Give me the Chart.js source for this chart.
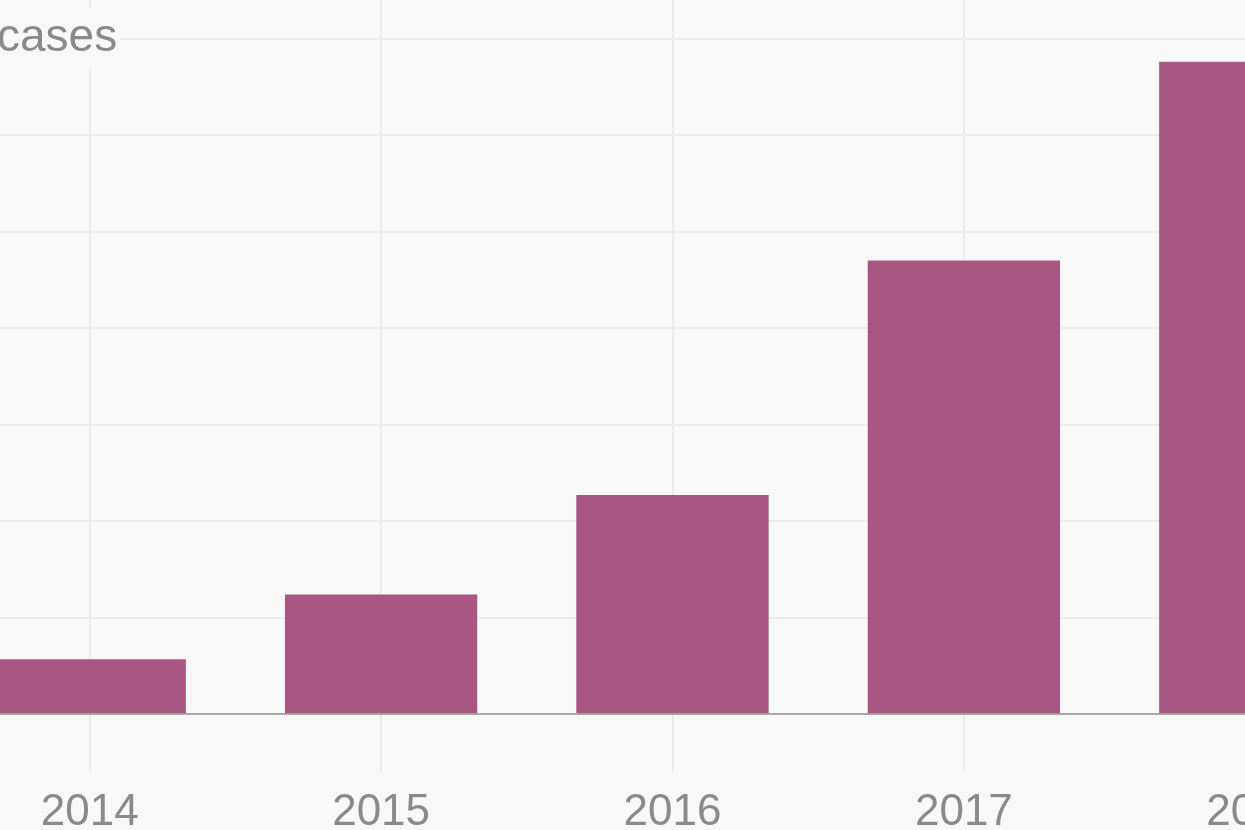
<!DOCTYPE html>
<html>
<head>
<meta charset="utf-8">
<script src="https://cdn.jsdelivr.net/npm/chart.js@4/dist/chart.umd.min.js"></script>
<style>
  html, body { margin: 0; padding: 0; background: #f8f8f8; }
  #frame { position: relative; width: 1245px; height: 830px; overflow: hidden; background: #f8f8f8; }
  #casesChart { position: absolute; left: -56px; top: 0; }
</style>
</head>
<body>
<div id="frame">
  <canvas id="casesChart" width="1457" height="854"></canvas>
</div>
<script>
// Chart data (the picture is cropped, so only part of the axis text is visible)
const years = ["2014", "2015", "2016", "2017", "2018"];
const cases = [57, 124, 227, 470, 676];
const yTickValues = [0, 100, 200, 300, 400, 500, 600, 700];
const yTickLabels = ["", "", "", "", "", "", "", "cases"];

const colors = {
  bar: "#a85782",
  grid: "#ebebeb",
  baseline: "#a8a8a8",
  text: "#8a8a8a",
  background: "#f8f8f8",
};

Chart.defaults.font.family = "'Liberation Sans', Arial, sans-serif";
Chart.defaults.color = colors.text;

document.addEventListener("DOMContentLoaded", function () {
  const ctx = document.getElementById("casesChart");

  new Chart(ctx, {
    type: "bar",
    data: {
      labels: years,
      datasets: [
        {
          data: cases,
          backgroundColor: colors.bar,
          borderWidth: 0,
          barPercentage: 0.66,
          categoryPercentage: 1.0,
        },
      ],
    },
    options: {
      responsive: false,
      animation: false,
      devicePixelRatio: 1,
      layout: { padding: 0 },
      plugins: {
        legend: { display: false },
        tooltip: { enabled: false },
      },
      scales: {
        x: {
          offset: true,
          grid: {
            offset: false,
            color: colors.grid,
            lineWidth: 2,
            drawTicks: true,
            tickLength: 57,
          },
          border: { display: false },
          ticks: {
            padding: 15,
            maxRotation: 0,
            font: { size: 44 },
            color: colors.text,
          },
        },
        y: {
          min: 0,
          max: 740,
          afterBuildTicks: function (scale) {
            scale.ticks = yTickValues.map((v) => ({ value: v }));
          },
          afterFit: function (scale) {
            // labels sit inside the plot, so the axis takes no room
            scale.width = 0;
            scale.paddingTop = 0;
            scale.paddingBottom = 0;
          },
          grid: {
            drawTicks: false,
            color: (c) => (c.tick && c.tick.value === 0 ? colors.baseline : colors.grid),
            lineWidth: (c) => 2,
          },
          border: { display: false },
          ticks: {
            mirror: true,
            padding: 53,
            z: 1,
            font: { size: 46 },
            color: colors.text,
            showLabelBackdrop: true,
            backdropColor: colors.background,
            backdropPadding: 3,
            callback: function (value) {
              const i = yTickValues.indexOf(value);
              return i >= 0 ? yTickLabels[i] : "";
            },
          },
        },
      },
    },
  });
});
</script>
</body>
</html>
